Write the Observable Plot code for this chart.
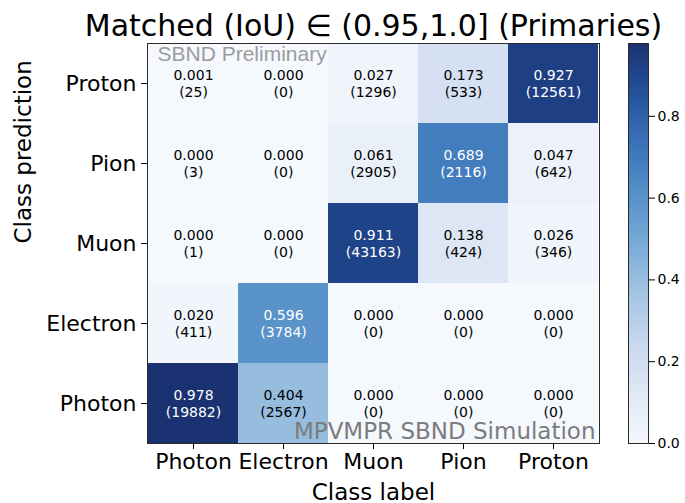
<!DOCTYPE html>
<html><head><meta charset="utf-8">
<script src="https://cdn.jsdelivr.net/npm/d3@7"></script>
<script src="https://cdn.jsdelivr.net/npm/@observablehq/plot@0.6"></script>
<style>
body{margin:0;background:#fff}
#wrap{position:relative;width:685px;height:503px}
#wrap svg{position:absolute;left:0;top:0}
</style>
</head><body><div id="wrap"></div>
<script>
const title = "Matched (IoU) \u2208 (0.95,1.0] (Primaries)";
const classLabels = ["Photon","Electron","Muon","Pion","Proton"];
const classPredictions = ["Proton","Pion","Muon","Electron","Photon"];
// rows follow classPredictions, columns follow classLabels
const fractionRows = [
  [0.001, 0.000, 0.027, 0.173, 0.927],
  [0.000, 0.000, 0.061, 0.689, 0.047],
  [0.000, 0.000, 0.911, 0.138, 0.026],
  [0.020, 0.596, 0.000, 0.000, 0.000],
  [0.978, 0.404, 0.000, 0.000, 0.000]
];
const countRows = [
  [25, 0, 1296, 533, 12561],
  [3, 0, 2905, 2116, 642],
  [1, 0, 43163, 424, 346],
  [411, 3784, 0, 0, 0],
  [19882, 2567, 0, 0, 0]
];
const colorbarTicks = [0.0, 0.2, 0.4, 0.6, 0.8];
const bluesColors = ["#f5f8fd","#dfe8f5","#c8d8ee","#a3c4e2","#78a9d6","#5590c8","#3a72b8","#24519a","#1a3272"];

const cells = [];
classPredictions.forEach((p, i) => classLabels.forEach((l, j) => {
  cells.push({label: l, prediction: p, value: fractionRows[i][j], count: countRows[i][j]});
}));
const vmax = d3.max(cells, d => d.value);
const colorScale = {
  type: "linear",
  domain: bluesColors.map((_, k) => vmax * k / (bluesColors.length - 1)),
  range: bluesColors,
  interpolate: "rgb"
};

const W = 685, H = 503;
const font = "DejaVu Sans, sans-serif";

const main = Plot.plot({
  width: W, height: H,
  marginLeft: 147, marginRight: 86, marginTop: 43, marginBottom: 60,
  style: {fontFamily: font, background: "white", color: "#000"},
  x: {domain: classLabels, padding: 0},
  y: {domain: classPredictions, padding: 0},
  color: colorScale,
  marks: [
    Plot.cell(cells, {x: "label", y: "prediction", fill: "value"}),
    Plot.text(cells, {
      x: "label", y: "prediction",
      text: d => d.value.toFixed(3) + "\n(" + d.count + ")",
      fill: d => d.value > vmax / 2 ? "white" : "black",
      fontSize: 14, lineHeight: 1.2
    }),
    Plot.text(["SBND Preliminary"], {frameAnchor: "top-left", dx: 10, dy: 17, lineAnchor: "bottom",
      fontSize: 21, fill: "#9c9c9c", fontFamily: "Liberation Sans, Arial, sans-serif", textAnchor: "start"}),
    Plot.text(["MPVMPR SBND Simulation"], {frameAnchor: "bottom-right", dx: -4, dy: -5, lineAnchor: "bottom",
      fontSize: 23, fill: "#7c7c7c", textAnchor: "end"}),
    Plot.frame({stroke: "#2a2a2a"}),
    Plot.axisX({tickSize: 6, tickPadding: 4, fontSize: 22, label: null}),
    Plot.axisY({tickSize: 6, tickPadding: 5, fontSize: 22, label: null}),
    Plot.text(["Class label"], {frameAnchor: "bottom", dy: 56, lineAnchor: "bottom", fontSize: 23}),
    Plot.text(["Class prediction"], {frameAnchor: "left", dx: -124, rotate: -90, lineAnchor: "middle", fontSize: 23}),
    Plot.text([title], {frameAnchor: "top", dy: -8, lineAnchor: "bottom", fontSize: 30})
  ]
});

const nStripes = 256;
const stripes = d3.range(nStripes).map(k => ({y1: vmax * k / nStripes, y2: vmax * (k + 1) / nStripes}));
const bar = Plot.plot({
  width: W, height: H,
  marginLeft: 628, marginRight: 37, marginTop: 43, marginBottom: 60,
  style: {fontFamily: font, background: "transparent", color: "#000"},
  x: {domain: [0, 1], axis: null},
  y: {domain: [0, vmax], axis: null},
  color: colorScale,
  marks: [
    Plot.rect(stripes, {x1: 0, x2: 1, y1: "y1", y2: "y2", fill: d => (d.y1 + d.y2) / 2, shapeRendering: "crispEdges"}),
    Plot.frame({stroke: "#2a2a2a"}),
    Plot.axisY({anchor: "right", ticks: colorbarTicks, tickFormat: ".1f", tickSize: 6, tickPadding: 3, fontSize: 14, label: null})
  ]
});

document.getElementById("wrap").append(main, bar);
</script>
</body></html>
